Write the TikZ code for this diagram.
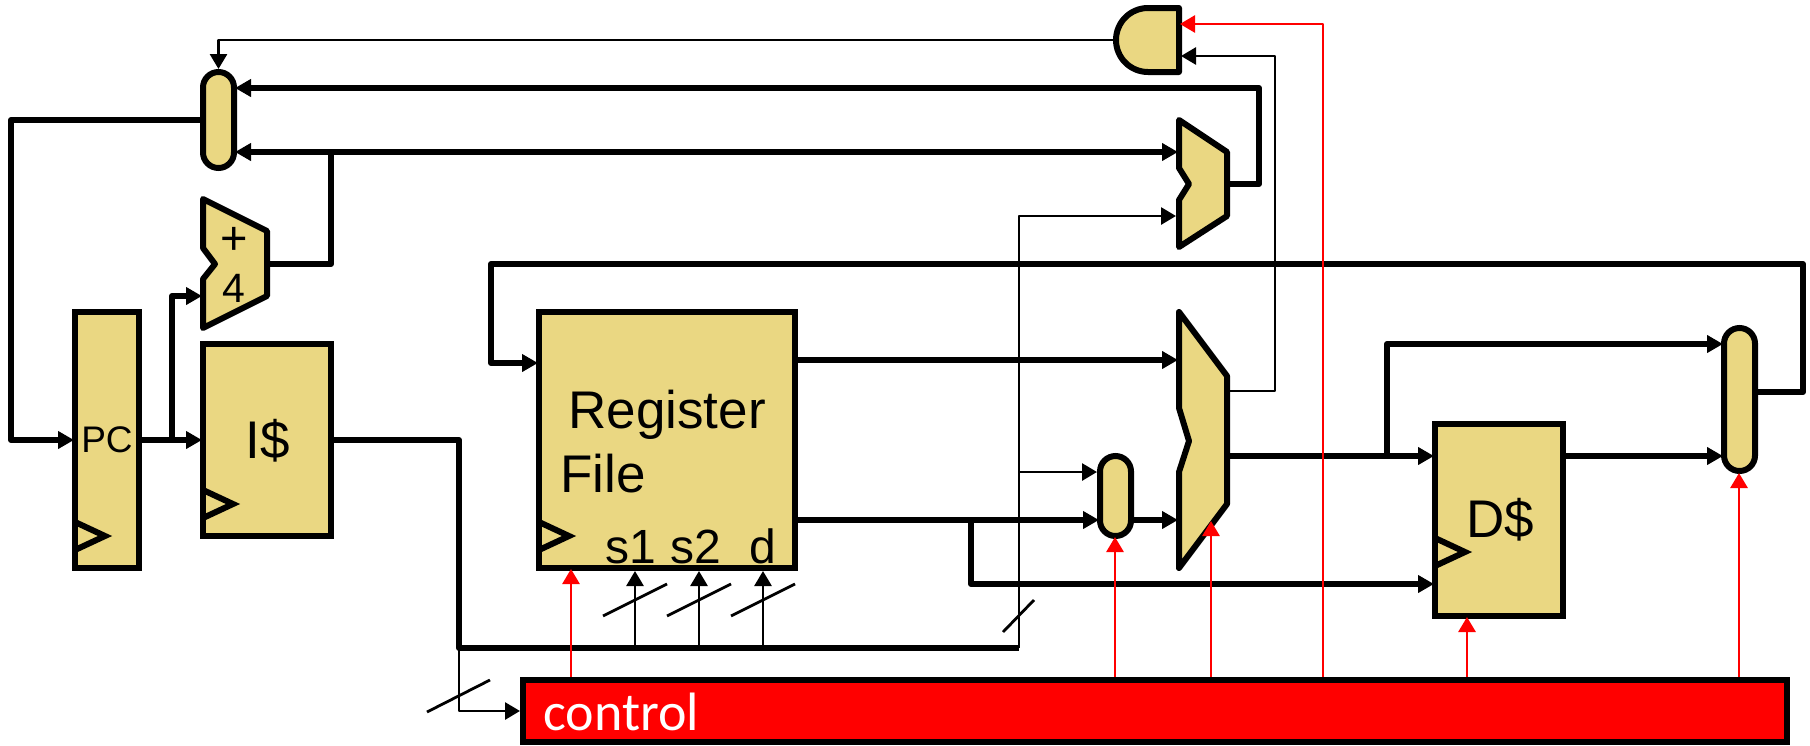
\documentclass[tikz,border=0pt]{standalone}
\usepackage{fontspec}
\setmainfont{Liberation Sans}
\newfontfamily\ctlfont{Carlito}
\usetikzlibrary{arrows.meta,calc,positioning}
\definecolor{unitfill}{HTML}{EAD782}
\tikzset{
  unit/.style={draw, fill=unitfill, line width=3pt, inner sep=0pt},
  mux/.style={unit, rounded corners=7.75pt, minimum width=15.5pt},
  poly/.style={draw, fill=unitfill, line width=3pt, line join=round},
  clk/.style={draw, line width=3pt},
  bus/.style={draw, line width=3pt, line join=round, shorten >=-1pt, -{Triangle[length=8pt,width=8.5pt]}},
  plain/.style={draw, line width=3pt, line join=round},
  wire/.style={draw, line width=1.4pt, line join=round, -{Triangle[length=7.5pt,width=8.5pt]}},
  ctrl/.style={wire, red},
  slash/.style={draw, line width=1.4pt},
  txt/.style={inner sep=0pt, font=\fontsize{#1}{#1}\selectfont},
}
\begin{document}
\begin{tikzpicture}[x=0.5pt, y=-0.5pt]
  \useasboundingbox (0,0) rectangle (1810,745);
  % boxes
  \node[unit, minimum width=32pt, minimum height=128pt] (pc) at (107,440) {};
  \node[unit, minimum width=64pt, minimum height=96pt] (icache) at (267,440) {};
  \node[unit, minimum width=128pt, minimum height=128pt] (rf) at (667,440) {};
  \node[unit, minimum width=64pt, minimum height=96pt] (dcache) at (1499,520) {};
  \node[unit, fill=red, minimum width=632pt, minimum height=31pt] (ctl) at (1155,711) {};
  \node[mux, minimum height=48pt] (pcmux) at (218.5,120) {};
  \node[mux, minimum height=40pt] (smux) at (1115.5,496) {};
  \node[mux, minimum height=71.5pt] (wbmux) at (1739.5,399.5) {};
  % adder, muxes and the gate
  \draw[poly] (203,199) -- (267,231) -- (267,296) -- (203,328) -- (203,279) -- (215,264) -- (203,248) -- cycle;
  \draw[poly] (1179,120) -- (1227,152) -- (1227,216) -- (1179,247) -- (1179,200) -- (1189,184) -- (1179,168) -- cycle;
  \draw[poly] (1179,312) -- (1227,376) -- (1227,504) -- (1179,568) -- (1179,472) -- (1189,441) -- (1179,408) -- cycle;
  \draw[poly] (1179,8) -- (1148,8) arc[start angle=90, end angle=270, radius=16pt] -- (1179,72) -- cycle;
  % clock marks
  \foreach \x/\y in {75/536,203/504,539/536,1435/552}
    \draw[clk] (\x,\y-14) -- (\x+30,\y) -- (\x,\y+14);
  % texts
  \node[txt=18.5] (pctxt) at (107,440) {PC};
  \node[txt=26.5] (itxt) at (268,441) {I\$};
  \node[txt=26.5] (dtxt) at (1500,520) {D\$};
  \node[txt=23.5] (plus) at (234,241) {+};
  \node[txt=20.5] (four) at (234,288) {4};
  \node[txt=26.5, anchor=base west] (regtxt) at (568,428) {Register};
  \node[txt=26.5, anchor=base west] (filetxt) at (560,492) {File};
  \foreach \n/\x/\t in {sone/631/s1,stwo/696/s2,dest/763/d}
    \node[txt=24, anchor=base] (\n) at (\x,563) {\t};
  \node[txt=27, anchor=base west, text=white] (ctltxt) at (543,730) {\ctlfont control};
  % pins and corners
  \coordinate (pcloop) at (11,440);
  \coordinate (pcjoin) at (172,440);
  \coordinate (addin) at (200,296);
  \coordinate (addout) at (270,264);
  \coordinate (addup) at (331,152);
  \coordinate (brina) at (1176,152);
  \coordinate (brinb) at (1176,216);
  \coordinate (brout) at (1230,184);
  \coordinate (brup) at (1259,88);
  \coordinate (gateout) at (1113,40);
  \coordinate (gatea) at (1180,24);
  \coordinate (gateb) at (1181,56);
  \coordinate (aluina) at (1176,360);
  \coordinate (aluinb) at (1176,520);
  \coordinate (aluout) at (1230,456);
  \coordinate (aluzero) at (1230,391);
  \coordinate (busl) at (459,648);
  \coordinate (busr) at (1019,648);
  \coordinate (fwd) at (971,520);
  \coordinate (memdata) at (971,584);
  \coordinate (memjoin) at (1387,456);
  \coordinate (wbina) at (1721,344);
  \coordinate (wbout) at (1803,392);
  \coordinate (wbtop) at (1803,264);
  \coordinate (rfloop) at (491,264);
  \coordinate (rfin) at (536,363);
  \coordinate (zerobr) at (1275,56);
  \coordinate (immbr) at (1019,472);
  % data paths
  \draw[bus] (pcmux.west) -| (pcloop) -- (pc.west);
  \draw[bus] (pc.east) -- (icache.west);
  \draw[bus] (pcjoin) |- (addin);
  \draw[plain] (addout) -| (addup);
  \draw[bus, shorten <=-1pt, {Triangle[length=8pt,width=8.5pt]}-{Triangle[length=8pt,width=8.5pt]}] (pcmux.east |- brina) -- (brina);
  \draw[bus] (brout) -| (brup) -- (pcmux.east |- brup);
  \draw[plain] (icache.east) -| (busl) -- (busr);
  \draw[bus] (rf.east |- aluina) -- (aluina);
  \draw[bus] (rf.east |- aluinb) -- (smux.west |- aluinb);
  \draw[bus] (smux.east |- aluinb) -- (aluinb);
  \draw[bus] (fwd) |- (dcache.west |- memdata);
  \draw[bus] (aluout) -- (dcache.west |- aluout);
  \draw[bus] (memjoin) |- (wbina);
  \draw[bus] (dcache.east |- aluout) -- (wbmux.west |- aluout);
  \draw[bus] (wbmux.east |- wbout) -- (wbout) -- (wbtop) -- (rfloop) |- (rfin);
  % thin lines
  \draw[wire] (gateout) -| (pcmux.north);
  \draw[wire] (busr) |- (brinb);
  \draw[wire] (immbr) -- (smux.west |- immbr);
  \draw[wire] (aluzero) -| (zerobr) -- (gateb);
  \draw[wire] (busl) |- (ctl.west);
  \foreach \n/\x in {sonein/635,stwoin/699,destin/763} {
    \coordinate (\n) at (\x,648);
    \draw[wire] (\n) -- (rf.south -| \n);
    \draw[slash] (\x-32,616) -- (\x+32,584);
  }
  \draw[slash] (1003,632) -- (1034,600);
  \draw[slash] (427,712) -- (490,680);
  % control lines
  \coordinate (rfctl) at (571,569);
  \coordinate (smuxctl) at (1115,537);
  \coordinate (aluctl) at (1211,521);
  \coordinate (dctl) at (1467,617);
  \coordinate (wbctl) at (1739,473);
  \coordinate (gatectl) at (1323,24);
  \foreach \c in {rfctl,smuxctl,aluctl,dctl,wbctl}
    \draw[ctrl] (ctl.north -| \c) -- (\c);
  \draw[ctrl] (ctl.north -| gatectl) -- (gatectl) -- (gatea);
\end{tikzpicture}
\end{document}
